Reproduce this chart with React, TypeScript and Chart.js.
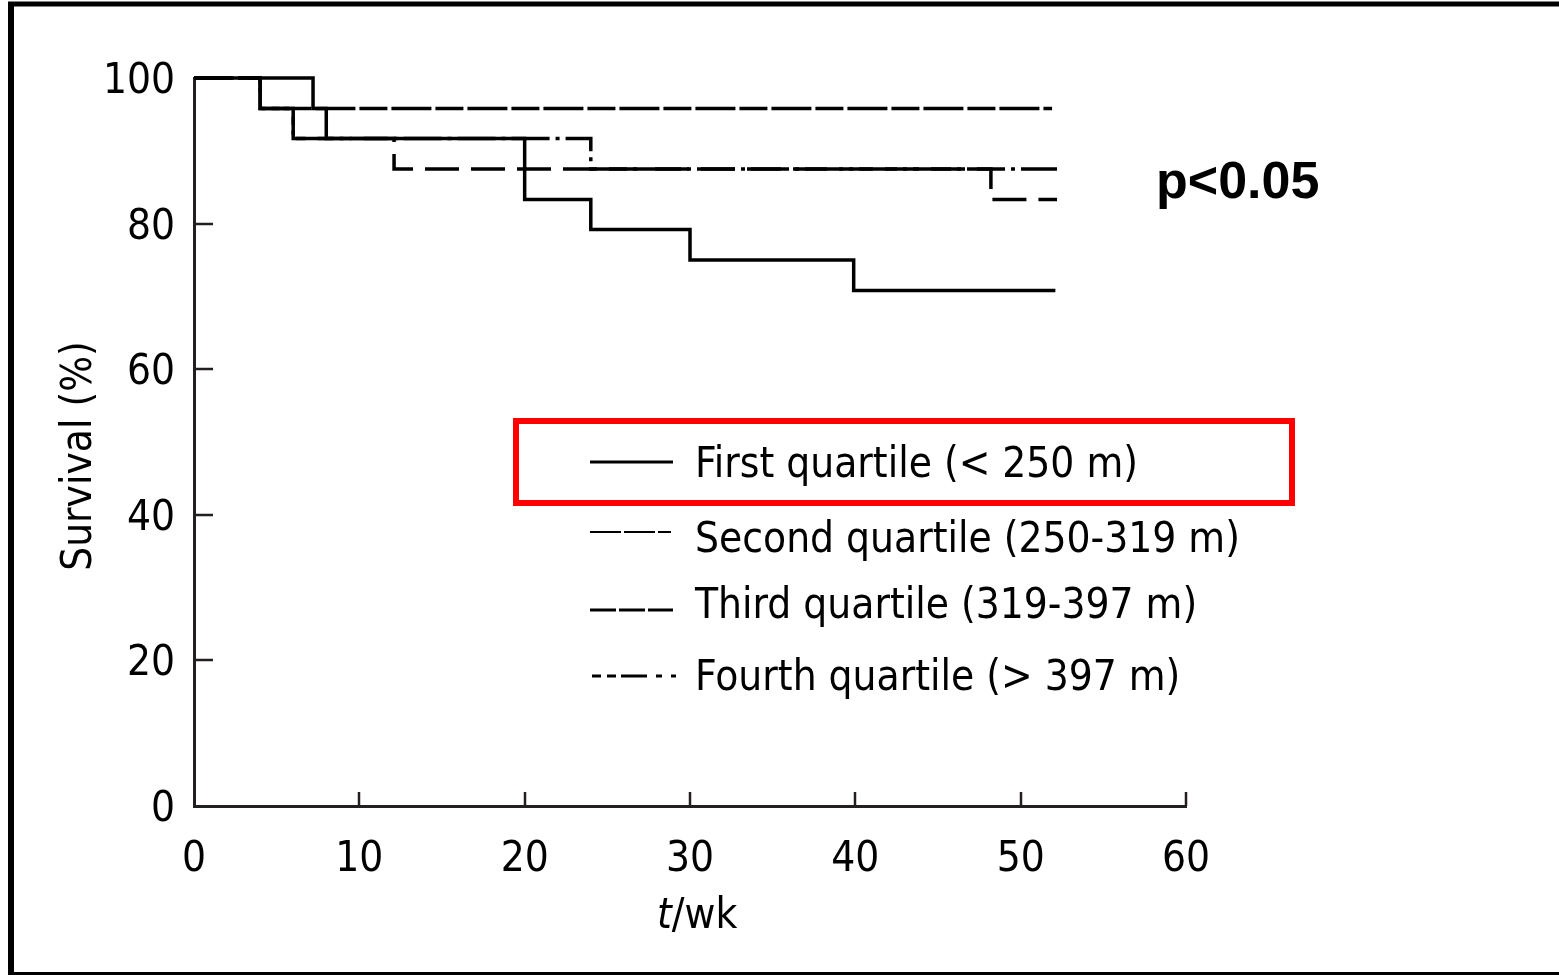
import React, { useEffect, useRef } from "react";
import { Chart, registerables } from "chart.js";

Chart.register(...registerables);

// ---- Data ----
const firstWeeks = [0, 7.2, 8.0, 20.0, 24.0, 30.0, 39.9, 52.1];
const firstSurvival = [100, 95.8, 91.7, 83.3, 79.2, 75.0, 70.8, 70.8];

const secondWeeks = [0, 4.0, 6.0, 12.1, 48.2, 52.2];
const secondSurvival = [100, 95.8, 91.7, 87.5, 83.3, 83.3];

const thirdWeeks = [0, 4.0, 51.9];
const thirdSurvival = [100, 95.8, 95.8];

const fourthWeeks = [0, 4.0, 6.0, 24.0, 52.2];
const fourthSurvival = [100, 95.8, 91.7, 87.5, 87.5];

const seriesLabels = [
  "First quartile (< 250 m)",
  "Second quartile (250-319 m)",
  "Third quartile (319-397 m)",
  "Fourth quartile (> 397 m)",
];

const xTickValues = [0, 10, 20, 30, 40, 50, 60];
const yTickValues = [0, 20, 40, 60, 80, 100];
const xTitleItalic = "t";
const xTitleRest = "/wk";
const yTitle = "Survival (%)";
const pValueText = "p<0.05";

// ---- Styles ----
const FONT = "'DejaVu Sans Condensed', 'DejaVu Sans', sans-serif";
const AXIS_COLOR = "#231f20";

const plotDashes: number[][] = [[], [34, 12], [40, 4, 28, 4], [38, 6, 4, 6]];
const legendDashes: number[][] = [[], [31, 3], [26, 3], [9, 6, 9, 5, 26, 9, 6, 9, 5, 100]];
const legendLineWidths = [3, 2, 3, 3];
const legendLineY = [462, 532, 610, 676];
const legendTextBaseline = [477, 552, 618, 690];

function toPoints(xs: number[], ys: number[]) {
  return xs.map((x, i) => ({ x, y: ys[i] }));
}

const decorPlugin = {
  id: "decor",
  afterDraw(chart: any) {
    const ctx: CanvasRenderingContext2D = chart.ctx;
    const xs = chart.scales.x;
    const ys = chart.scales.y;
    ctx.save();

    // frame
    ctx.fillStyle = "#000";
    ctx.fillRect(8, 2, 6, 973);
    ctx.fillRect(8, 1.5, 1551, 5);
    ctx.fillRect(8, 972, 1551, 3);

    // inward tick marks
    ctx.strokeStyle = AXIS_COLOR;
    ctx.lineWidth = 2.5;
    const x0 = xs.getPixelForValue(0);
    const y0 = ys.getPixelForValue(0);
    yTickValues.forEach((v) => {
      if (v === 0 || v === 100) return;
      const py = Math.round(ys.getPixelForValue(v));
      ctx.beginPath();
      ctx.moveTo(x0, py);
      ctx.lineTo(x0 + 19, py);
      ctx.stroke();
    });
    xTickValues.forEach((v) => {
      if (v === 0) return;
      const px = Math.round(xs.getPixelForValue(v));
      ctx.beginPath();
      ctx.moveTo(px, y0);
      ctx.lineTo(px, y0 - 14);
      ctx.stroke();
    });

    // legend
    ctx.strokeStyle = "#000";
    seriesLabels.forEach((label, i) => {
      ctx.beginPath();
      ctx.setLineDash(legendDashes[i]);
      ctx.lineWidth = legendLineWidths[i];
      const lx0 = i === 3 ? 592 : 590;
      const lx1 = i === 1 ? 671 : i === 3 ? 676 : 673;
      ctx.moveTo(lx0, legendLineY[i]);
      ctx.lineTo(lx1, legendLineY[i]);
      ctx.stroke();
      ctx.setLineDash([]);
      ctx.fillStyle = "#000";
      ctx.font = `42px ${FONT}`;
      ctx.textAlign = "left";
      ctx.textBaseline = "alphabetic";
      ctx.fillText(label, 695, legendTextBaseline[i]);
    });

    // red box around first legend entry
    ctx.strokeStyle = "#ff0000";
    ctx.lineWidth = 6;
    ctx.strokeRect(516, 421, 776, 82);

    // p value
    ctx.fillStyle = "#000";
    ctx.font = `bold 52px 'Liberation Sans', Arial, sans-serif`;
    ctx.textAlign = "left";
    ctx.textBaseline = "alphabetic";
    ctx.fillText(pValueText, 1156, 198);

    // x title
    ctx.font = `italic 42px ${FONT}`;
    ctx.fillText(xTitleItalic, 657, 928);
    const tw = ctx.measureText(xTitleItalic).width;
    ctx.font = `42px ${FONT}`;
    ctx.fillText(xTitleRest, 657 + tw, 928);

    // y title
    ctx.translate(91, 456);
    ctx.rotate(-Math.PI / 2);
    ctx.font = `42px ${FONT}`;
    ctx.textAlign = "center";
    ctx.fillText(yTitle, 0, 0);

    ctx.restore();
  },
};

export default function App() {
  const canvasRef = useRef<HTMLCanvasElement | null>(null);

  useEffect(() => {
    const canvas = canvasRef.current;
    if (!canvas) return;
    const seriesData = [
      toPoints(firstWeeks, firstSurvival),
      toPoints(secondWeeks, secondSurvival),
      toPoints(thirdWeeks, thirdSurvival),
      toPoints(fourthWeeks, fourthSurvival),
    ];
    const chart = new Chart(canvas, {
      type: "line",
      data: {
        datasets: seriesData.map((d, i) => ({
          label: seriesLabels[i],
          data: d,
          stepped: true,
          borderColor: "#000",
          borderWidth: 3.5,
          borderDash: plotDashes[i],
          pointRadius: 0,
          fill: false,
          clip: false as any,
        })),
      },
      options: {
        animation: false,
        responsive: false,
        devicePixelRatio: 1,
        layout: { padding: { left: 0, right: 373, top: 78, bottom: 0 } },
        plugins: {
          legend: { display: false },
          tooltip: { enabled: false },
          title: { display: false },
        },
        scales: {
          x: {
            type: "linear",
            min: 0,
            max: 60,
            afterBuildTicks: (s: any) => {
              s.ticks = xTickValues.map((v) => ({ value: v }));
            },
            afterFit: (s: any) => {
              s.height = 171;
            },
            ticks: {
              font: { family: FONT, size: 42 },
              color: "#000",
              padding: 29,
              maxRotation: 0,
              autoSkip: false,
            },
            grid: { display: false, drawTicks: false },
            border: { display: true, color: AXIS_COLOR, width: 3 },
          },
          y: {
            type: "linear",
            min: 0,
            max: 100,
            afterBuildTicks: (s: any) => {
              s.ticks = yTickValues.map((v) => ({ value: v }));
            },
            afterFit: (s: any) => {
              s.width = 194;
            },
            ticks: {
              font: { family: FONT, size: 42 },
              color: "#000",
              padding: 19,
              labelOffset: 4,
              autoSkip: false,
            },
            grid: { display: false, drawTicks: false },
            border: { display: true, color: AXIS_COLOR, width: 3 },
          },
        },
      },
      plugins: [decorPlugin],
    });
    return () => chart.destroy();
  }, []);

  return (
    <div style={{ position: "fixed", left: 0, top: 0, width: 1559, height: 977, overflow: "hidden", background: "#fff" }}>
      <canvas ref={canvasRef} width={1559} height={977} style={{ display: "block" }} />
    </div>
  );
}
